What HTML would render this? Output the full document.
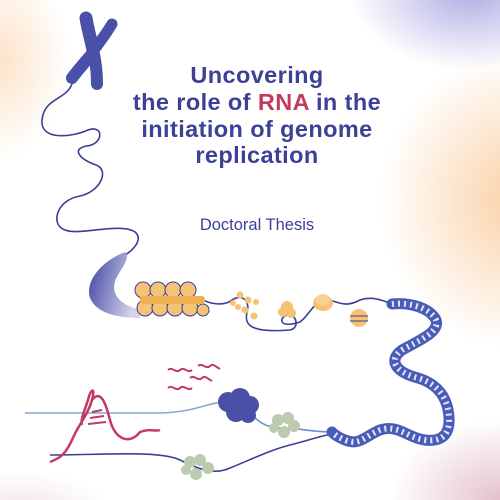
<!DOCTYPE html>
<html><head><meta charset="utf-8">
<style>
html,body{margin:0;padding:0;width:500px;height:500px;overflow:hidden;background:#fff}
svg{display:block;overflow:hidden}
</style></head>
<body>
<svg width="500" height="500" viewBox="0 0 500 500">
<defs>
<radialGradient id="gOr" cx="0.5" cy="0.5" r="0.5"><stop offset="0" stop-color="#fac895" stop-opacity="0.85"/><stop offset="1" stop-color="#fac895" stop-opacity="0"/></radialGradient>
<radialGradient id="gPu" cx="0.5" cy="0.5" r="0.5"><stop offset="0" stop-color="#9a96dc" stop-opacity="0.8"/><stop offset="1" stop-color="#9a96dc" stop-opacity="0"/></radialGradient>
<radialGradient id="gPk" cx="0.5" cy="0.5" r="0.5"><stop offset="0" stop-color="#d9a6b6" stop-opacity="0.7"/><stop offset="1" stop-color="#d9a6b6" stop-opacity="0"/></radialGradient>
<linearGradient id="gCres" x1="0" y1="0" x2="1" y2="0.3"><stop offset="0" stop-color="#3d42a0"/><stop offset="1" stop-color="#d6d4ec"/></linearGradient>
</defs>
<g>
<rect width="500" height="500" fill="#fff"/>
<ellipse cx="520" cy="200" rx="140" ry="150" fill="url(#gOr)"/>
<ellipse cx="470" cy="-10" rx="120" ry="80" fill="url(#gPu)"/>
<ellipse cx="0" cy="60" rx="70" ry="100" fill="url(#gOr)" opacity="0.6"/>
<ellipse cx="500" cy="500" rx="110" ry="80" fill="url(#gPk)"/>
<ellipse cx="20" cy="510" rx="90" ry="40" fill="url(#gPk)" opacity="0.4"/>
</g>
<g font-family="'Liberation Sans',sans-serif" font-weight="bold" font-size="23.5" letter-spacing="0.4" fill="#3d4195" text-anchor="middle">
<text x="257" y="83">Uncovering</text>
<text x="257" y="110">the role of <tspan fill="#c23a5f">RNA</tspan> in the</text>
<text x="257" y="137">initiation of genome</text>
<text x="257" y="163">replication</text>
</g>
<text x="257" y="230" font-family="'Liberation Sans',sans-serif" font-size="16.5" fill="#3d4195" text-anchor="middle">Doctoral Thesis</text>
<g stroke="#4a50a8" stroke-linecap="round" fill="none">
<path d="M86 18 C88 30 91 40 93 50" stroke-width="13"/>
<path d="M112 24 C106 34 100 42 94 50" stroke-width="11"/>
<path d="M92 54 C85 62 78 70 72 78" stroke-width="12"/>
<path d="M94 54 C96 64 97 74 97 84" stroke-width="12"/>
</g>
<g fill="none" stroke="#3a3f96" stroke-width="1.6">
<path d="M72 84 C66 100 44 98 42 120 C40 140 70 138 88 130 C104 124 104 145 86 146 C70 150 82 160 96 165 C110 170 100 192 80 196 C56 200 50 225 65 230 C80 236 120 222 135 232 C145 240 130 255 115 260"/>
<path d="M200 298 C210 305 225 306 232 300 C245 292 250 305 247 312 C244 325 250 333 290 330 C300 328 296 315 290 315 C280 314 275 330 300 322 C310 315 315 298 328 300 C340 302 345 308 360 300 C372 296 382 300 392 304"/>
<path d="M25 413 C60 413 140 413 160 413 C200 412 210 400 228 403" stroke="#6e8fd0" opacity="0.8"/>
<path d="M245 408 C255 418 262 428 282 428 C300 428 310 432 332 432" stroke="#6e8fd0"/>
<path d="M50 455 C100 455 160 450 180 460 C200 470 215 475 230 468 C250 460 270 450 290 445 C310 440 320 436 332 434"/>
</g>
<path d="M125 252 C100 262 85 282 90 298 C96 312 115 318 140 318 L142 310 C118 305 108 292 118 275 C125 264 130 256 125 252Z" fill="url(#gCres)"/>
<g fill="#f6c274" stroke="#3a3f96" stroke-width="1">
<circle cx="143" cy="290" r="8"/><circle cx="158" cy="290" r="8"/><circle cx="173" cy="290" r="8"/><circle cx="188" cy="290" r="8"/>
<circle cx="145" cy="308" r="8"/><circle cx="160" cy="308" r="8"/><circle cx="175" cy="308" r="8"/><circle cx="190" cy="308" r="8"/><circle cx="203" cy="310" r="6"/>
<rect x="140" y="296" width="65" height="8" rx="3" fill="#f0b050" stroke="none"/>
</g>
<g fill="#f6c274">
<circle cx="240" cy="295" r="3.5"/><circle cx="248" cy="300" r="3.5"/><circle cx="256" cy="302" r="3"/><circle cx="238" cy="307" r="3"/><circle cx="245" cy="310" r="3.5"/><circle cx="254" cy="316" r="3.5"/><circle cx="233" cy="303" r="3"/>
<circle cx="287" cy="307" r="6"/><circle cx="283" cy="312" r="5"/><circle cx="291" cy="313" r="5"/>
<ellipse cx="323" cy="303" rx="10" ry="8"/><ellipse cx="323" cy="300" rx="7" ry="6" fill="#f8d090"/>
<ellipse cx="359" cy="318" rx="9" ry="9"/><line x1="350" y1="316" x2="368" y2="316" stroke="#3a3f96"/><line x1="350" y1="321" x2="368" y2="321" stroke="#3a3f96"/>
</g>
<g fill="none" stroke-linecap="round">
<path d="M392 304 C410 302 430 308 436 320 C440 332 420 340 402 350 C388 360 395 372 418 378 C438 384 448 398 449 418 C450 436 440 442 425 440 C408 438 398 424 380 430 C365 436 360 446 345 440 C335 436 332 432 332 432" stroke="#4b5cb8" stroke-width="11"/>
<path d="M392 304 C410 302 430 308 436 320 C440 332 420 340 402 350 C388 360 395 372 418 378 C438 384 448 398 449 418 C450 436 440 442 425 440 C408 438 398 424 380 430 C365 436 360 446 345 440 C335 436 332 432 332 432" stroke="#dfe7f7" stroke-width="6" stroke-dasharray="2 4" stroke-linecap="butt"/>
</g>
<g fill="#4a50a8">
<circle cx="228" cy="402" r="10"/><circle cx="240" cy="398" r="10"/><circle cx="250" cy="405" r="9"/><circle cx="236" cy="412" r="10"/><circle cx="248" cy="415" r="8"/>
</g>
<g fill="#bccab0">
<circle cx="278" cy="420" r="6"/><circle cx="288" cy="418" r="6"/><circle cx="294" cy="426" r="6"/><circle cx="284" cy="432" r="6"/><circle cx="274" cy="428" r="5"/>
<circle cx="190" cy="462" r="6"/><circle cx="200" cy="460" r="6"/><circle cx="208" cy="468" r="6"/><circle cx="196" cy="474" r="6"/><circle cx="186" cy="470" r="5"/>
</g>
<g fill="none" stroke="#c23a5f" stroke-width="2">
<path d="M168 370 C172 366 176 374 180 370 C184 366 188 374 192 370"/>
<path d="M198 366 C202 362 206 370 210 366 C214 362 218 370 220 368"/>
<path d="M190 378 C194 374 198 382 202 378 C206 374 210 382 212 380"/>
<path d="M168 388 C172 384 176 392 180 388 C184 384 188 392 192 388"/>
<path d="M50 462 C60 458 65 455 72 440 C78 425 88 415 92 400 C96 385 90 390 88 400 C85 410 80 420 82 425" stroke-width="2.5"/>
<path d="M92 400 C100 390 105 400 110 420 C115 440 130 445 140 432 C150 428 155 432 160 430" stroke-width="2.5"/>
<line x1="92" y1="412" x2="102" y2="410"/><line x1="90" y1="418" x2="104" y2="416"/><line x1="88" y1="424" x2="106" y2="422"/>
</g>
</svg>
</body></html>
